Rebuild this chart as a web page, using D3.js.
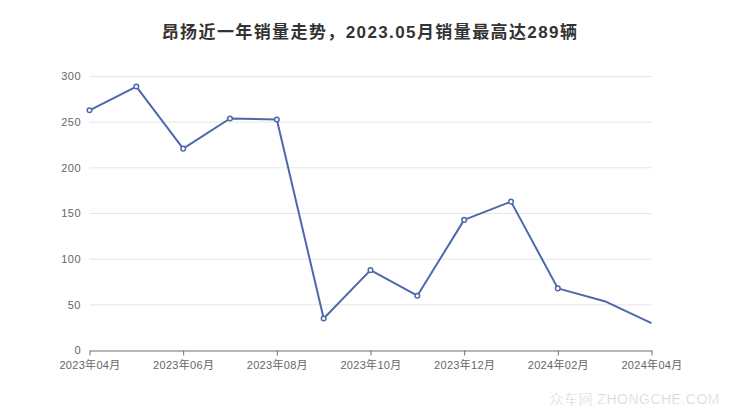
<!DOCTYPE html>
<html><head><meta charset="utf-8">
<script src="https://cdn.jsdelivr.net/npm/d3@7/dist/d3.min.js"></script>
<style>body{margin:0;background:#fff}svg{display:block}</style>
</head><body>
<svg id="c" width="740" height="417"></svg>
<script>
const months = ["2023-04","2023-05","2023-06","2023-07","2023-08","2023-09","2023-10","2023-11","2023-12","2024-01","2024-02","2024-03","2024-04"];
const sales = [263,289,221,254,253,35,88,60,143,163,68,54,30];
const yTicks = [0,50,100,150,200,250,300];
const title = "昂扬近一年销量走势，2023.05月销量最高达289辆";
const showMarker = [1,1,1,1,1,1,1,1,1,1,1,0,0];

const svg = d3.select("#c");
const font = "'Liberation Sans','Noto Sans CJK SC',sans-serif";
const x = d3.scalePoint().domain(months).range([89.5, 651.5]);
const y = d3.scaleLinear().domain([0,300]).range([350.5, 76.5]);
const fmt = m => { const [a,b] = m.split("-"); return a + "年" + b + "月"; };

svg.append("text").attr("x",370).attr("y",38).attr("text-anchor","middle")
  .attr("font-family",font).attr("font-size",17).attr("font-weight","bold").attr("fill","#333")
  .attr("letter-spacing",1.4)
  .text(title);

const g = svg.append("g");
yTicks.forEach(t=>{
  if(t>0) g.append("line").attr("x1",89.5).attr("x2",651.5).attr("y1",y(t)).attr("y2",y(t)).attr("stroke","#e6e6e6").attr("stroke-width",1);
  g.append("text").attr("x",81).attr("y",y(t)).attr("dy","0.35em").attr("text-anchor","end")
   .attr("font-family",font).attr("font-size",11).attr("fill","#666").attr("letter-spacing",0.5).text(t);
});

const xa = svg.append("g").attr("transform","translate(0,350.5)")
  .call(d3.axisBottom(x).tickValues(months.filter((d,i)=>i%2===0)).tickFormat(fmt).tickSize(5).tickSizeOuter(0));
xa.select(".domain").attr("stroke","#6e7079");
xa.selectAll(".tick line").attr("stroke","#6e7079");
xa.selectAll(".tick text").attr("font-family",font).attr("font-size",11).attr("fill","#666").attr("letter-spacing",0.3).attr("y",9).attr("dy","0.85em");

const line = d3.line().x((d,i)=>x(months[i])).y(d=>y(d));
svg.append("path").datum(sales).attr("d",line).attr("fill","none").attr("stroke","#4e68ad").attr("stroke-width",2).attr("stroke-linejoin","round");
svg.selectAll("circle.m").data(sales.map((v,i)=>({v,i})).filter(d=>showMarker[d.i])).enter().append("circle")
  .attr("cx",d=>x(months[d.i])).attr("cy",d=>y(d.v)).attr("r",2.3)
  .attr("fill","#fff").attr("stroke","#4e68ad").attr("stroke-width",1.5);

svg.append("text").attr("x",720).attr("y",404).attr("text-anchor","end")
  .attr("font-family",font).attr("font-size",14).attr("fill","#c8c8c8")
  .attr("stroke","#fff").attr("stroke-width",0.5).attr("letter-spacing",0.5)
  .text("众车网 ZHONGCHE.COM");
</script>
</body></html>
